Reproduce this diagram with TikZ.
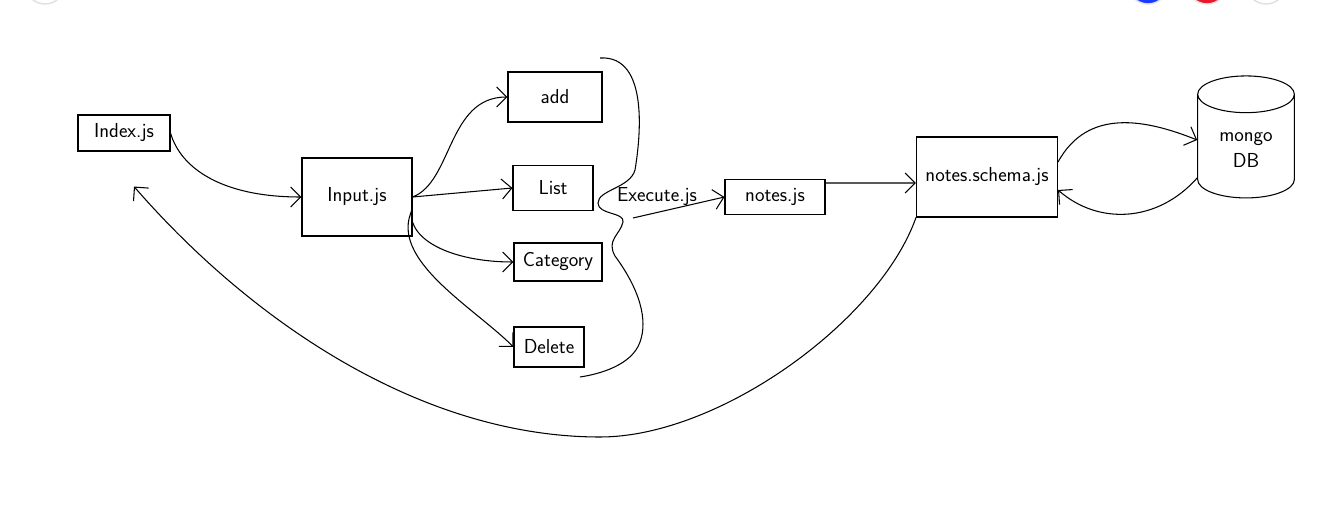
\documentclass[tikz,border=0pt]{standalone}
\usepackage{tikz}
\usetikzlibrary{shapes.geometric, arrows.meta, positioning, calc}

\definecolor{btnblue}{HTML}{1A3CFF}
\definecolor{btnred}{HTML}{E8192C}

\tikzset{
  box/.style={draw, line width=0.9pt, font=\sffamily\LARGE, inner sep=2pt},
  arr/.style={line width=0.9pt, -{Straight Barb[length=3mm,width=6mm]}},
  sketch/.style={line width=0.9pt},
  btn/.style={draw=black!12, line width=1.2pt},
}

\begin{document}
\begin{tikzpicture}[x=0.3mm, y=-0.3mm]
\clip (0,0) rectangle (1321,528);
\fill[white] (0,0) rectangle (1321,528);

\fill[btn, fill=white] (45,-16) circle (20);
\fill[btn, fill=btnblue] (1148,-16) circle (20);
\fill[btn, fill=btnred] (1207,-16) circle (20);
\fill[btn, fill=white] (1266,-16) circle (20);

\node[box, minimum width=27.6mm, minimum height=10.8mm] (index) at (124,133) {Index.js};
\node[box, minimum width=33mm, minimum height=23.4mm] (input) at (357,197) {Input.js};
\node[box, minimum width=28.2mm, minimum height=15mm] (add) at (555,97) {add};
\node[box, minimum width=24mm, minimum height=13.5mm] (list) at (553,188) {List};
\node[box, minimum width=26.4mm, minimum height=11.4mm] (category) at (558,262) {Category};
\node[box, minimum width=21mm, minimum height=12mm] (delete) at (549,347) {Delete};
\node[font=\sffamily\LARGE] (exec) at (657,197) {Execute.js};
\coordinate (execline) at (633,218);
\node[box, minimum width=30mm, minimum height=10.5mm] (notes) at (775,197) {notes.js};
\node[box, minimum width=42.3mm, minimum height=24mm] (schema) at (987,177) {notes.schema.js};
\node[draw, cylinder, shape border rotate=90, aspect=0.6, line width=0.9pt,
      minimum width=29mm, minimum height=36.6mm, font=\sffamily\LARGE, align=center]
      (mongo) at (1246,150) {mongo\\DB};

\draw[arr] (index.east) .. controls +(10,35) and +(-80,0) .. (input.west);
\draw[arr] (input.east) .. controls +(40,-15) and +(-60,0) .. (add.west);
\draw[arr] (input.east) -- (list.west);
\draw[arr] ([yshift=-2.4mm]input.east) .. controls +(-10,35) and +(-60,0) .. (category.west);
\draw[arr] ([yshift=-3.6mm]input.east) .. controls +(-25,50) and +(-40,-40) .. (delete.west);

\draw[sketch] (600,58) .. controls (650,55) and (640,140) .. (635,170)
  .. controls (630,188) and (598,190) .. (598,203)
  .. controls (598,215) and (625,212) .. (623,222)
  .. controls (620,235) and (606,240) .. (615,256)
  .. controls (640,290) and (648,320) .. (640,342)
  .. controls (632,365) and (600,374) .. (580,377);

\draw[arr] (execline) -- (notes.west);
\draw[arr] ([yshift=4.2mm]notes.east) -- ([yshift=-1.8mm]schema.west);
\draw[arr] ([yshift=4.5mm]schema.east) .. controls +(30,-55) and +(-50,-20) .. ([yshift=3mm]mongo.west);
\draw[arr] ([yshift=-8.4mm]mongo.west) .. controls +(-40,45) and +(40,35) .. ([yshift=-3.9mm]schema.east);
\draw[arr] (schema.south west) .. controls (880,320) and (720,437) .. (600,437)
  .. controls (420,437) and (250,320) .. ([shift={(10,35)}]index.south);
\end{tikzpicture}
\end{document}
